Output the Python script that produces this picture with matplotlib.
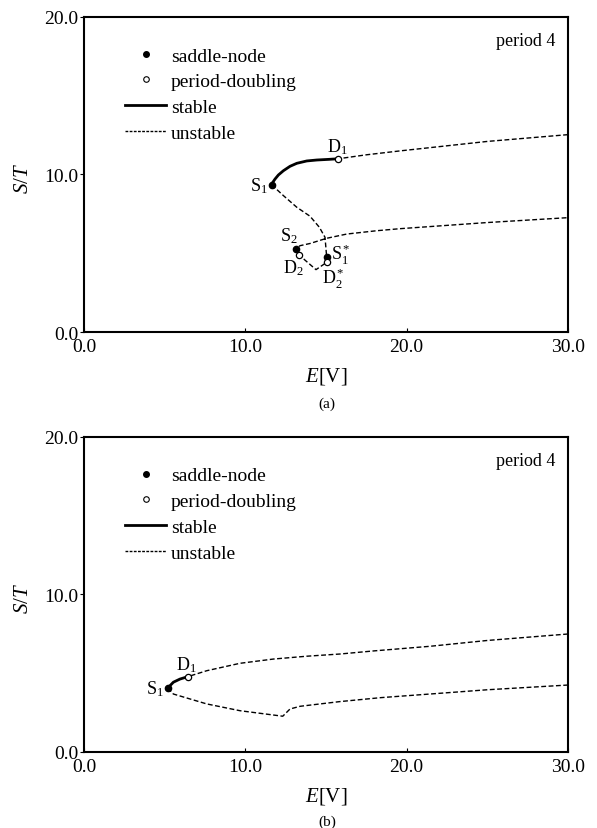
import matplotlib.pyplot as plt
from matplotlib.lines import Line2D

plt.rcParams['font.family'] = ['Liberation Serif', 'DejaVu Serif']
plt.rcParams['mathtext.fontset'] = 'custom'
plt.rcParams['mathtext.rm'] = 'Liberation Serif'
plt.rcParams['mathtext.it'] = 'Liberation Serif:italic'

# ---- panel (a) ----
a_up_E = [30.0, 25.0, 19.6, 17.5, 15.77]
a_up_S = [12.53, 12.1, 11.5, 11.25, 11.0]
a_st_E = [15.77, 15.15, 14.43, 13.81, 13.19, 12.77, 12.36, 12.05, 11.84, 11.70, 11.63]
a_st_S = [11.0, 10.96, 10.92, 10.86, 10.71, 10.52, 10.24, 9.97, 9.71, 9.50, 9.35]
a_lo_E = [11.63, 12.36, 13.19, 14.01, 14.59, 14.94, 15.04, 15.04, 14.38, 13.33, 13.12,
          13.39, 14.01, 15.04, 16.29, 18.14, 19.59, 25.0, 30.0]
a_lo_S = [9.35, 8.66, 7.92, 7.35, 6.65, 6.01, 4.78, 4.42, 3.96, 4.89, 5.27,
          5.48, 5.62, 5.95, 6.22, 6.43, 6.56, 6.95, 7.26]
a_sn = [(11.63, 9.35), (13.12, 5.27), (15.04, 4.78)]
a_pd = [(15.77, 11.0), (13.33, 4.89), (15.04, 4.42)]
a_labels = [
    (r'$\mathrm{S}_1$', 11.63, 9.35, -3, 0, 'right', 'center'),
    (r'$\mathrm{D}_1$', 15.77, 11.0, -1, 2, 'center', 'bottom'),
    (r'$\mathrm{S}_2$', 13.12, 5.27, -5, 3, 'center', 'bottom'),
    (r'$\mathrm{D}_2$', 13.33, 4.89, -4, -2, 'center', 'top'),
    (r'$\mathrm{S}_1^*$', 15.04, 4.78, 3, 2, 'left', 'center'),
    (r'$\mathrm{D}_2^*$', 15.04, 4.42, 5, -2, 'center', 'top'),
]

# ---- panel (b) ----
b_up_E = [30.0, 25.0, 21.45, 18.0, 15.87, 13.81, 11.74, 9.67, 7.61, 6.43]
b_up_S = [7.49, 7.08, 6.71, 6.42, 6.22, 6.08, 5.9, 5.63, 5.16, 4.78]
b_st_E = [6.43, 5.95, 5.54, 5.19]
b_st_S = [4.78, 4.63, 4.43, 4.06]
b_lo_E = [5.19, 5.54, 7.61, 9.67, 12.32, 12.77, 13.39, 15.87, 18.4, 21.45, 25.0, 30.0]
b_lo_S = [4.06, 3.68, 3.05, 2.62, 2.27, 2.73, 2.9, 3.2, 3.45, 3.68, 3.95, 4.25]
b_sn = [(5.19, 4.06)]
b_pd = [(6.43, 4.78)]
b_labels = [
    (r'$\mathrm{S}_1$', 5.19, 4.06, -3, 0, 'right', 'center'),
    (r'$\mathrm{D}_1$', 6.43, 4.78, -1, 2, 'center', 'bottom'),
]

xticks = [0, 10, 20, 30]
yticks = [0, 10, 20]
dash = (0, (3.5, 1.8))


def draw_panel(ax, up, st, lo, sn, pdp, labels):
    ax.plot(up[0], up[1], color='black', lw=1.0, ls=dash)
    ax.plot(lo[0], lo[1], color='black', lw=1.0, ls=dash)
    ax.plot(st[0], st[1], color='black', lw=2.0, solid_capstyle='round')
    ax.plot([p[0] for p in sn], [p[1] for p in sn], 'o', ms=4.5,
            color='black', zorder=5)
    ax.plot([p[0] for p in pdp], [p[1] for p in pdp], 'o', ms=4.5,
            mfc='white', mec='black', mew=0.9, zorder=5)
    for txt, x, y, dx, dy, ha, va in labels:
        ax.annotate(txt, (x, y), xytext=(dx, dy), textcoords='offset points',
                    ha=ha, va=va, fontsize=13)

    ax.set_xlim(0, 30)
    ax.set_ylim(0, 20)
    ax.set_xticks(xticks)
    ax.set_yticks(yticks)
    ax.set_xticklabels(['%.1f' % t for t in xticks])
    ax.set_yticklabels(['%.1f' % t for t in yticks])
    ax.tick_params(axis='x', direction='in', length=3, pad=4, labelsize=14)
    ax.tick_params(axis='y', direction='out', length=3, pad=1, labelsize=14)
    for s in ax.spines.values():
        s.set_linewidth(1.5)
    ax.set_xlabel(r'$E$[V]', fontsize=15)
    ax.xaxis.set_label_coords(0.5, -0.137)
    ax.xaxis.label.set_va('center')
    ax.set_ylabel(r'$S/T$', fontsize=15)
    ax.yaxis.set_label_coords(-0.124, 0.49)
    ax.yaxis.label.set_va('center')

    ax.text(0.973, 0.924, 'period 4', transform=ax.transAxes, ha='right',
            va='center', fontsize=13)

    handles = [
        Line2D([], [], ls='none', marker='o', ms=4, color='black'),
        Line2D([], [], ls='none', marker='o', ms=4, mfc='white', mec='black', mew=0.8),
        Line2D([], [], color='black', lw=2),
        Line2D([], [], color='black', lw=1, ls=(0, (2, 1))),
    ]
    ax.legend(handles, ['saddle-node', 'period-doubling', 'stable', 'unstable'],
              loc='upper left', bbox_to_anchor=(0.085, 0.905), frameon=False,
              fontsize=14, handlelength=2.1, handletextpad=0.25,
              labelspacing=0.42, borderpad=0, borderaxespad=0)


fig = plt.figure(figsize=(5.97, 8.29), dpi=100)
ax_a = fig.add_axes([0.1407, 0.5983, 0.8107, 0.38])
ax_b = fig.add_axes([0.1407, 0.0917, 0.8107, 0.38])

draw_panel(ax_a, (a_up_E, a_up_S), (a_st_E, a_st_S), (a_lo_E, a_lo_S),
           a_sn, a_pd, a_labels)
draw_panel(ax_b, (b_up_E, b_up_S), (b_st_E, b_st_S), (b_lo_E, b_lo_S),
           b_sn, b_pd, b_labels)

fig.text(0.548, 0.5127, '(a)', ha='center', va='center', fontsize=11)
fig.text(0.548, 0.008, '(b)', ha='center', va='center', fontsize=11)

fig.savefig('out.png', dpi=100)
